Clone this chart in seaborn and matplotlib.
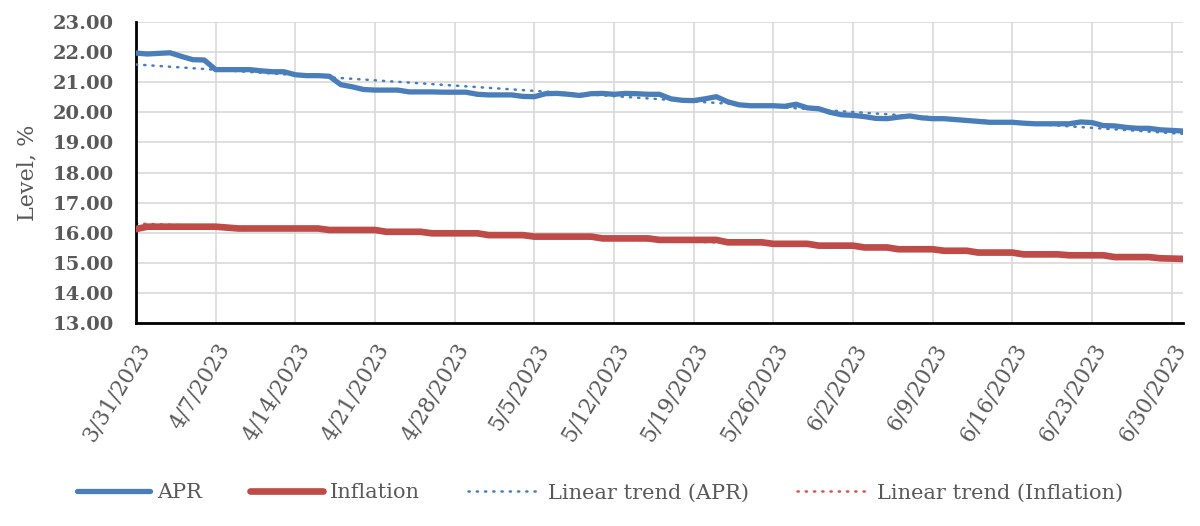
import matplotlib
matplotlib.use("Agg")
import matplotlib.pyplot as plt
import seaborn as sns
import pandas as pd
import numpy as np

# daily values, 3/31/2023 .. 7/1/2023
dates = pd.date_range("2023-03-31", "2023-07-01", freq="D")

apr = [21.97, 21.94, 21.96, 21.98, 21.86, 21.75, 21.74,
       21.42, 21.42, 21.42, 21.42, 21.38, 21.35, 21.35,
       21.25, 21.22, 21.22, 21.20, 20.92, 20.85, 20.76,
       20.74, 20.74, 20.74, 20.68, 20.68, 20.68, 20.67,
       20.67, 20.67, 20.60, 20.58, 20.58, 20.58, 20.53,
       20.52, 20.62, 20.63, 20.60, 20.56, 20.62, 20.63,
       20.60, 20.63, 20.62, 20.60, 20.60, 20.45, 20.40,
       20.39, 20.45, 20.52, 20.35, 20.25, 20.22, 20.22,
       20.22, 20.20, 20.27, 20.15, 20.12, 20.00, 19.92,
       19.90, 19.86, 19.80, 19.79, 19.84, 19.88, 19.82,
       19.79, 19.79, 19.76, 19.73, 19.70, 19.67, 19.67,
       19.67, 19.64, 19.62, 19.62, 19.62, 19.62, 19.68,
       19.66, 19.56, 19.55, 19.50, 19.47, 19.47, 19.42,
       19.40, 19.38]

inflation = [16.12,
             16.20, 16.20, 16.20, 16.20, 16.20, 16.20, 16.20,
             16.17,
             16.14, 16.14, 16.14, 16.14, 16.14, 16.14, 16.14, 16.14,
             16.09, 16.09, 16.09, 16.09, 16.09,
             16.03, 16.03, 16.03, 16.03,
             15.98, 15.98, 15.98, 15.98, 15.98,
             15.92, 15.92, 15.92, 15.92,
             15.87, 15.87, 15.87, 15.87, 15.87, 15.87,
             15.81, 15.81, 15.81, 15.81, 15.81,
             15.76, 15.76, 15.76, 15.76, 15.76, 15.76,
             15.68, 15.68, 15.68, 15.68,
             15.63, 15.63, 15.63, 15.63,
             15.57, 15.57, 15.57, 15.57,
             15.51, 15.51, 15.51,
             15.45, 15.45, 15.45, 15.45,
             15.40, 15.40, 15.40,
             15.34, 15.34, 15.34, 15.34,
             15.28, 15.28, 15.28, 15.28,
             15.25, 15.25, 15.25, 15.25,
             15.19, 15.19, 15.19, 15.19,
             15.15, 15.14, 15.13]

tick_dates = pd.date_range("2023-03-31", "2023-06-30", freq="7D")
tick_labels = ["3/31/2023", "4/7/2023", "4/14/2023", "4/21/2023", "4/28/2023",
               "5/5/2023", "5/12/2023", "5/19/2023", "5/26/2023", "6/2/2023",
               "6/9/2023", "6/16/2023", "6/23/2023", "6/30/2023"]

df = pd.DataFrame({"date": dates, "APR": apr, "Inflation": inflation})

# linear trends (least squares on day number)
days = np.arange(len(df))
df["trend_apr"] = np.polyval(np.polyfit(days, df["APR"], 1), days)
df["trend_inf"] = np.polyval(np.polyfit(days, df["Inflation"], 1), days)

blue = "#4A7EBB"
red = "#BE4B48"
txt = "#595959"
dots = (0, (0.5, 2.8))

sns.set_style("white")
plt.rcParams["font.family"] = ["DejaVu Serif"]

fig = plt.figure(figsize=(12, 5.26), dpi=100)
ax = fig.add_axes([0.1133, 0.386, 0.8725, 0.572])

sns.lineplot(data=df, x="date", y="APR", ax=ax, color=blue, lw=3.8, label="APR", zorder=3)
sns.lineplot(data=df, x="date", y="Inflation", ax=ax, color=red, lw=4.8, label="Inflation", zorder=3)
sns.lineplot(data=df, x="date", y="trend_apr", ax=ax, color=blue, lw=1.8, zorder=4,
             linestyle=dots, dash_capstyle="round", label="Linear trend (APR)")
sns.lineplot(data=df, x="date", y="trend_inf", ax=ax, color="#E05050", lw=1.8, zorder=2,
             linestyle=dots, dash_capstyle="round", label="Linear trend (Inflation)")

ax.set_xlim(dates[0], dates[-1])
ax.set_ylim(13, 23)
ax.set_yticks(np.arange(13, 23.5, 1))
ax.set_yticklabels([f"{v:.2f}" for v in np.arange(13, 23.5, 1)],
                   fontweight="bold", color=txt, fontsize=14)
ax.set_xticks(tick_dates)
ax.set_xticklabels(tick_labels, rotation=59, ha="right", rotation_mode="anchor",
                   color=txt, fontsize=15.5)

ax.grid(True, color="#D9D9D9", lw=1.2)
ax.set_axisbelow(True)
for s in ["top", "right"]:
    ax.spines[s].set_visible(False)
for s in ["left", "bottom"]:
    ax.spines[s].set_color("black")
    ax.spines[s].set_linewidth(2)
ax.tick_params(axis="x", direction="out", length=6, width=2, color="black", pad=6)
ax.tick_params(axis="y", length=0, pad=16)

ax.set_xlabel("")
ax.set_ylabel("Level, %", color=txt, fontsize=16)
ax.yaxis.set_label_coords(-0.093, 0.5)

handles, labels = ax.get_legend_handles_labels()
ax.get_legend().remove()
leg = fig.legend(handles, labels, loc="center", bbox_to_anchor=(0.5, 0.063), ncol=4,
                 frameon=False, fontsize=15, handlelength=3.5, handletextpad=0.35,
                 columnspacing=2.3)
for t in leg.get_texts():
    t.set_color(txt)

fig.savefig("out.png", dpi=100)
